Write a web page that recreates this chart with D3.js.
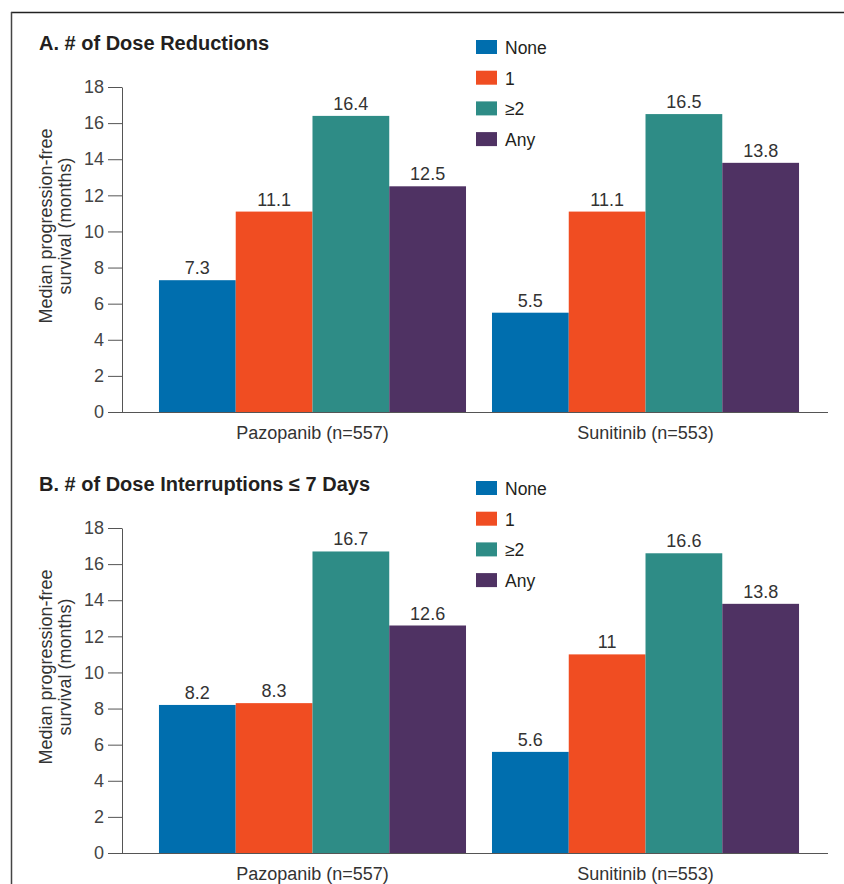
<!DOCTYPE html>
<html>
<head>
<meta charset="utf-8">
<script src="https://cdn.jsdelivr.net/npm/d3@7"></script>
<style>
  body { margin: 0; background: #fff; }
  text { font-family: "Liberation Sans", Arial, sans-serif; }
  .narrow { font-family: "Liberation Sans Narrow", "Arial Narrow", "Liberation Sans", sans-serif; }
</style>
</head>
<body>
<script>
// data
var drugs = ["Pazopanib (n=557)", "Sunitinib (n=553)"];
var groups = ["None", "1", "\u22652", "Any"];
var colors = ["#006eae", "#f04d22", "#2e8c86", "#4f3263"];
var yTicks = [0, 2, 4, 6, 8, 10, 12, 14, 16, 18];

var titleA = "A. # of Dose Reductions";
var reductionsPazo = [7.3, 11.1, 16.4, 12.5];
var reductionsSuni = [5.5, 11.1, 16.5, 13.8];

var titleB = "B. # of Dose Interruptions \u2264 7 Days";
var interruptPazo = [8.2, 8.3, 16.7, 12.6];
var interruptSuni = [5.6, 11, 16.6, 13.8];

var width = 844, height = 884;

var svg = d3.select("body").append("svg")
    .attr("width", width)
    .attr("height", height);

// border (top + left only)
svg.append("line").attr("x1", 11).attr("x2", width).attr("y1", 12.5).attr("y2", 12.5)
    .attr("stroke", "#222").attr("stroke-width", 1.5);
svg.append("line").attr("x1", 11.5).attr("x2", 11.5).attr("y1", 12).attr("y2", height)
    .attr("stroke", "#444").attr("stroke-width", 1.5);

var x0 = d3.scaleBand().domain(drugs).range([122, 836]).paddingInner(0.078).paddingOuter(0.111);
var x1 = d3.scaleBand().domain(groups).range([0, x0.bandwidth()]);

function panel(top, title, pazo, suni) {
    var g = svg.append("g");
    var y = d3.scaleLinear().domain([0, 18]).range([top + 325, top]);

    g.append("text")
        .attr("x", 39).attr("y", top - 37)
        .attr("font-size", 20).attr("font-weight", "bold").attr("fill", "#231f20")
        .text(title);

    // y axis
    var yAxis = g.append("g")
        .attr("transform", "translate(122,0)")
        .call(d3.axisLeft(y).tickValues(yTicks).tickSize(14).tickPadding(4).tickSizeOuter(0));
    yAxis.select(".domain").attr("stroke", "#555");
    yAxis.selectAll(".tick line").attr("stroke", "#555");
    yAxis.selectAll(".tick text")
        .attr("class", "narrow")
        .attr("font-size", 18).attr("fill", "#444")
        .style("font-family", "'Liberation Sans Narrow', 'Liberation Sans', sans-serif");

    // x axis line
    g.append("line").attr("x1", 108).attr("x2", 828)
        .attr("y1", y(0) + 0.5).attr("y2", y(0) + 0.5)
        .attr("stroke", "#555").attr("stroke-width", 1.2);

    var rows = [pazo, suni];
    drugs.forEach(function(d, i) {
        var gg = g.append("g").attr("transform", "translate(" + x0(d) + ",0)");
        gg.selectAll("rect")
            .data(rows[i])
            .enter().append("rect")
            .attr("x", function(v, j) { return x1(groups[j]); })
            .attr("y", function(v) { return y(v); })
            .attr("width", x1.bandwidth())
            .attr("height", function(v) { return y(0) - y(v); })
            .attr("fill", function(v, j) { return colors[j]; });
        gg.selectAll(".val")
            .data(rows[i])
            .enter().append("text")
            .attr("class", "val narrow")
            .attr("x", function(v, j) { return x1(groups[j]) + x1.bandwidth() / 2; })
            .attr("y", function(v) { return y(v) - 6; })
            .attr("text-anchor", "middle")
            .attr("font-size", 18).attr("fill", "#333")
            .text(function(v) { return v; });
        g.append("text")
            .attr("x", x0(d) + x0.bandwidth() / 2)
            .attr("y", y(0) + 27)
            .attr("text-anchor", "middle")
            .attr("font-size", 18).attr("fill", "#333")
            .text(d);
    });

    // y label
    var cy = top + 139;
    var lab = g.append("text")
        .attr("transform", "translate(52," + cy + ") rotate(-90)")
        .attr("text-anchor", "middle")
        .attr("font-size", 18).attr("fill", "#333");
    lab.append("tspan").attr("x", 0).attr("dy", 0).text("Median progression-free");
    lab.append("tspan").attr("x", 0).attr("dy", 19).text("survival (months)");

    // legend
    var leg = g.append("g").attr("transform", "translate(476," + (top - 40) + ")");
    groups.forEach(function(name, j) {
        leg.append("rect")
            .attr("x", 0).attr("y", j * 30.7 - 7)
            .attr("width", 21).attr("height", 14)
            .attr("fill", colors[j]);
        leg.append("text")
            .attr("x", 29).attr("y", j * 30.7 + 7)
            .attr("font-size", 17.5).attr("fill", "#231f20")
            .text(name);
    });
}

panel(87, titleA, reductionsPazo, reductionsSuni);
panel(528, titleB, interruptPazo, interruptSuni);
</script>
</body>
</html>
